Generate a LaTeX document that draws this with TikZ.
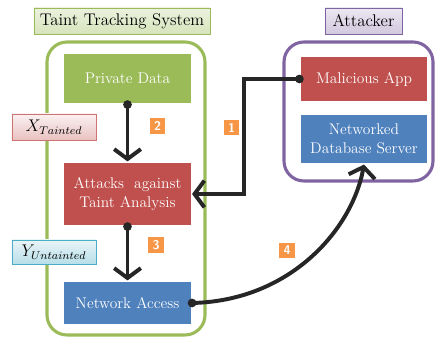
\documentclass[tikz,border=0pt]{standalone}
\usepackage{amsmath}
\usepackage{tikz}
\usetikzlibrary{arrows.meta,calc,positioning,shadows}
\definecolor{olivegr}{HTML}{9BBB59}
\definecolor{brickred}{HTML}{C0504D}
\definecolor{steelbl}{HTML}{4F81BD}
\definecolor{violetfr}{HTML}{8064A2}
\definecolor{badgeor}{HTML}{F79646}
\definecolor{aquabd}{HTML}{4BACC6}
\definecolor{darkln}{HTML}{262626}
\tikzset{
  blk/.style={rectangle,draw=white,line width=0.8pt,text=white,align=center,
    minimum width=3.2cm,font=\fontsize{11}{13.5}\selectfont,
    drop shadow={opacity=0.25,shadow xshift=0.6pt,shadow yshift=-0.6pt}},
  lbl/.style={rectangle,draw,line width=0.6pt,minimum height=0.65cm,font=\large,
    drop shadow={opacity=0.2,shadow xshift=0.6pt,shadow yshift=-0.6pt}},
  tag/.style={rectangle,draw,line width=0.5pt,minimum width=2.1cm,font=\large,
    drop shadow={opacity=0.2,shadow xshift=0.6pt,shadow yshift=-0.6pt}},
  badge/.style={rectangle,fill=badgeor,draw=white,line width=0.6pt,text=white,
    minimum size=0.42cm,inner sep=0pt,font=\sffamily\bfseries\small},
  frame/.style={rounded corners=0.5cm,line width=2.2pt},
  conn/.style={draw=darkln,line width=2.8pt,
    {Circle[length=6pt,sep=-3pt]}-{Straight Barb[length=7pt,width=19pt]}},
}
\begin{document}
\begin{tikzpicture}[x=0.025cm,y=-0.025cm]
\useasboundingbox (0,0) rectangle (437,340);
% containers
\draw[frame,olivegr] (47,42) rectangle (205,335);
\draw[frame,violetfr] (284,42) rectangle (433,181);
% titles
\node[lbl,draw=olivegr,top color=olivegr!20,bottom color=olivegr!40,minimum width=4.4cm] (ttslbl) at (122,21) {Taint Tracking System};
\node[lbl,draw=violetfr,top color=violetfr!15,bottom color=violetfr!35,minimum width=1.925cm] (attlbl) at (363.5,21) {Attacker};
% taint tracking system blocks
\node[blk,fill=olivegr,minimum height=1.275cm] (private) at (127.5,78.5) {Private Data};
\node[blk,fill=brickred,minimum height=1.6cm] (attacks) at (127.5,194) {Attacks\ \ against\\Taint Analysis};
\node[blk,fill=steelbl,minimum height=1.1cm] (netaccess) at (127.5,303) {Network Access};
% attacker blocks
\node[blk,fill=brickred,minimum height=1.15cm] (malapp) at (364,79) {Malicious App};
\node[blk,fill=steelbl,minimum height=1.25cm] (dbserver) at (364,139) {Networked\\Database Server};
% data tags
\node[tag,draw=brickred!80,top color=brickred!8,bottom color=brickred!35,minimum height=0.65cm] (xtaint) at (54,127) {$X_{Tainted}$};
\node[tag,draw=aquabd,top color=aquabd!12,bottom color=aquabd!40,minimum height=0.6cm] (yuntaint) at (54,252) {$Y_{Untainted}$};
% connectors
\draw[conn] (private.south) -- (attacks.north);
\draw[conn] (attacks.south) -- (netaccess.north);
\draw[conn] (malapp.west) -- ++(-55,0) |- (attacks.east);
\draw[conn] (netaccess.east) .. controls (290,300) and (352,230) .. (dbserver.south);
% steps
\node[badge] (s1) at (231.5,127.5) {1};
\node[badge] (s2) at (157.5,126) {2};
\node[badge] (s3) at (156,245) {3};
\node[badge] (s4) at (287,250.5) {4};
\end{tikzpicture}
\end{document}
